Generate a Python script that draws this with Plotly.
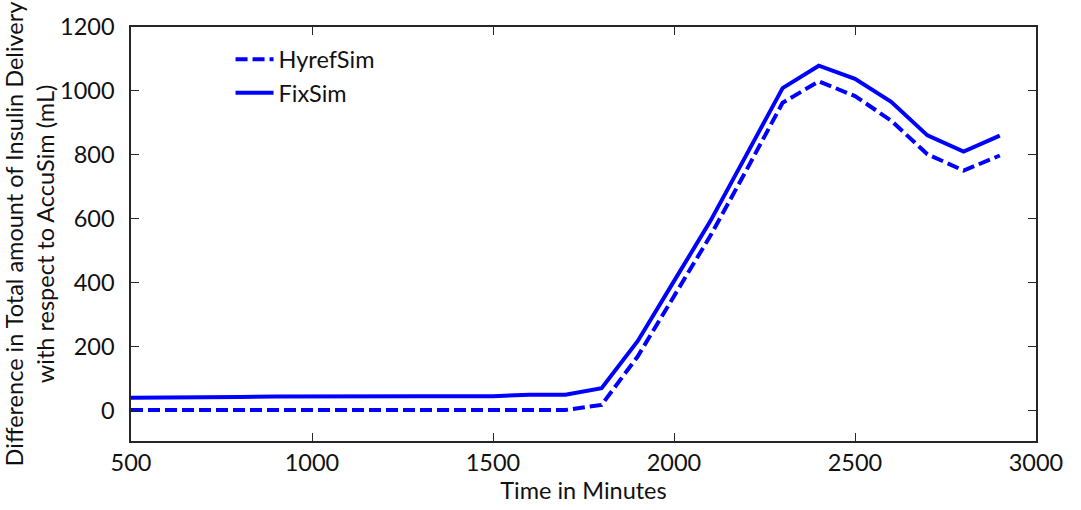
import plotly.graph_objects as go

time_min = [500, 600, 700, 800, 900, 1000, 1100, 1200, 1300, 1400, 1500, 1600, 1700,
            1800, 1900, 2000, 2100, 2200, 2300, 2400, 2500, 2600, 2700, 2800, 2900]
hyref_sim = [2, 2, 2, 2, 2, 2, 2, 2, 2, 2, 2, 2, 2,
             18, 170, 358, 546, 752, 963, 1030, 984, 907, 802, 751, 798]
fix_sim = [40, 40, 42, 43, 44, 45, 45, 45, 45, 45, 45, 50, 50,
           70, 218, 405, 592, 800, 1009, 1079, 1038, 966, 861, 810, 860]

x_ticks = [500, 1000, 1500, 2000, 2500, 3000]
y_ticks = [0, 200, 400, 600, 800, 1000, 1200]

FONT = "Lato"
FS = 23.5
BLUE = "#0000FF"

fig = go.Figure()
fig.add_trace(go.Scatter(x=time_min, y=hyref_sim, mode="lines", name="HyrefSim",
                         line=dict(color=BLUE, width=4, dash="12px,5px")))
fig.add_trace(go.Scatter(x=time_min, y=fix_sim, mode="lines", name="FixSim",
                         line=dict(color=BLUE, width=4)))

axis_common = dict(showgrid=False, zeroline=False, showline=True, linecolor="#262626",
                   linewidth=1.5, mirror="allticks", ticks="inside", ticklen=8,
                   tickcolor="#262626", tickwidth=1,
                   tickfont=dict(family=FONT, size=FS, color="#111111"))

fig.update_layout(
    width=1081, height=510,
    margin=dict(l=131, r=45, t=20, b=68),
    paper_bgcolor="white", plot_bgcolor="white",
    font=dict(family=FONT, size=FS, color="#111111"),
    showlegend=True,
    legend=dict(x=0.11, y=0.975, xanchor="left", yanchor="top",
                bgcolor="rgba(0,0,0,0)", borderwidth=0, itemwidth=38,
                tracegroupgap=0,
                font=dict(family=FONT, size=FS, color="#111111")),
    xaxis=dict(range=[500, 3000], tickvals=x_ticks,
               title=dict(text="Time in Minutes", standoff=6,
                          font=dict(family=FONT, size=FS, color="#111111")),
               **axis_common),
    yaxis=dict(range=[-95, 1200], tickvals=y_ticks, ticklabelstandoff=10,
               title=dict(text="Difference in Total amount of Insulin Delivery<br>with respect to AccuSim (mL)",
                          standoff=0, font=dict(family=FONT, size=FS, color="#111111")),
               **axis_common),
)

fig.write_html("out.html")
